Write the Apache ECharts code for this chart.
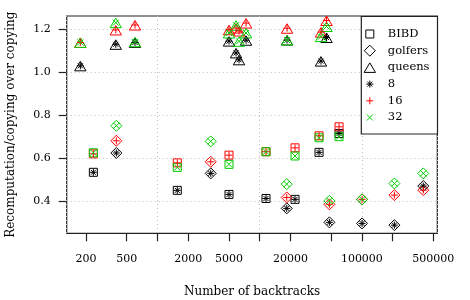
<!DOCTYPE html>
<html><head><meta charset="utf-8">
<script src="https://cdn.jsdelivr.net/npm/echarts@6/dist/echarts.min.js"></script>
<style>html,body{margin:0;padding:0;background:#fff}#c{width:470px;height:300px}</style>
</head><body><div id="c"></div>
<script>
// ---- data ----
const bibdX    = [236, 1563, 5012, 11530, 22180, 38100, 59800];
const bibd8    = [0.534, 0.450, 0.431, 0.412, 0.408, 0.627, 0.715];
const bibd16   = [0.620, 0.578, 0.614, 0.630, 0.648, 0.704, 0.746];
const bibd32   = [0.625, 0.557, 0.571, 0.630, 0.610, 0.695, 0.700];

const golfersX  = [396, 3320, 18400, 48100, 100400, 208000, 399000];
const golfers8  = [0.624, 0.529, 0.366, 0.301, 0.296, 0.288, 0.470];
const golfers16 = [0.681, 0.583, 0.417, 0.385, 0.408, 0.428, 0.451];
const golfers32 = [0.751, 0.678, 0.479, 0.401, 0.408, 0.482, 0.529];

const queensX  = [176, 391, 603, 5012, 5875, 6283, 7360, 18530, 39800, 45100];
const queens8  = [1.030, 1.130, 1.139, 1.145, 1.090, 1.058, 1.149, 1.150, 1.052, 1.162];
const queens16 = [1.139, 1.197, 1.220, 1.198, 1.206, 1.192, 1.229, 1.205, 1.187, 1.241];
const queens32 = [1.139, 1.231, 1.142, 1.183, 1.219, 1.144, 1.183, 1.150, 1.166, 1.213];

const problems = ['BIBD', 'golfers', 'queens'];
const copies   = ['8', '16', '32'];
const xTicks   = [200, 500, 1000, 2000, 5000, 10000, 20000, 50000, 100000, 200000, 500000];
const xLabels  = [200, 500, 2000, 5000, 20000, 100000, 500000];
const yTicks   = [0.4, 0.6, 0.8, 1.0, 1.2];

// ---- styling ----
const COL = {'8': '#000000', '16': '#FF0000', '32': '#00CD00'};
const SHAPE = {
  BIBD:    'path://M0,0M12,12M2,2H10V10H2Z',
  golfers: 'path://M0,0M12,12M6,0.5L11.5,6L6,11.5L0.5,6Z',
  queens:  'path://M0,0M12,12M6,1.5L11.7,11H0.3Z'
};
const MARK = {
  '8':  'path://M0,0M12,12M6,2.5V9.5M2.5,6H9.5M3.5,3.5L8.5,8.5M8.5,3.5L3.5,8.5',
  '16': 'path://M0,0M12,12M6,2.5V9.5M2.5,6H9.5',
  '32': 'path://M0,0M12,12M3,3L9,9M9,3L3,9'
};
const FONT = 'DejaVu Serif';
const table = {
  BIBD:    {x: bibdX, '8': bibd8, '16': bibd16, '32': bibd32},
  golfers: {x: golfersX, '8': golfers8, '16': golfers16, '32': golfers32},
  queens:  {x: queensX, '8': queens8, '16': queens16, '32': queens32}
};

const series = [];
problems.forEach(p => {
  const data = [];
  copies.forEach(c => {
    table[p].x.forEach((x, i) => {
      data.push({value: [x, table[p][c][i]], itemStyle: {borderColor: COL[c]}});
    });
  });
  series.push({
    name: p, type: 'scatter', xAxisIndex: 0, symbol: SHAPE[p], symbolSize: 12,
    itemStyle: {color: 'none', borderColor: '#000', borderWidth: 1, opacity: 1},
    emphasis: {disabled: true}, data: data, z: 2
  });
});
copies.forEach(c => {
  const data = [];
  problems.forEach(p => {
    table[p].x.forEach((x, i) => data.push([x, table[p][c][i]]));
  });
  series.push({
    name: c, type: 'scatter', xAxisIndex: 0, symbol: MARK[c], symbolSize: 12,
    itemStyle: {color: 'none', borderColor: COL[c], borderWidth: 1, opacity: 1},
    emphasis: {disabled: true}, data: data, z: 3
  });
});

const legendData = problems.map(p => ({
  name: p, icon: SHAPE[p], itemStyle: {color: 'none', borderColor: '#000', borderWidth: 1}
})).concat(copies.map(c => ({
  name: c, icon: MARK[c], itemStyle: {color: 'none', borderColor: COL[c], borderWidth: 1}
})));

const chart = echarts.init(document.getElementById('c'), null, {renderer: 'canvas'});
chart.setOption({
  animation: false,
  backgroundColor: '#fff',
  textStyle: {fontFamily: FONT, color: '#000'},
  grid: {left: 66.7, right: 32.7, top: 16, bottom: 66.7, show: true, outerBoundsMode: 'none', containLabel: false,
         borderColor: '#222', borderWidth: 1.2, backgroundColor: 'transparent'},
  legend: {
    orient: 'vertical', right: 32.5, top: 16.5, data: legendData,
    itemWidth: 26, itemHeight: 12, itemGap: -0.3,
    padding: [9, 8, 8, 0],
    borderColor: '#222', borderWidth: 1.2, backgroundColor: '#fff',
    textStyle: {fontFamily: FONT, fontSize: 11.5, color: '#000'},
    selectedMode: false
  },
  xAxis: [{
    type: 'log', min: 129.4, max: 547000, position: 'bottom',
    axisLine: {show: false}, axisTick: {show: false}, axisLabel: {show: false},
    splitLine: {show: true, lineStyle: {color: '#bbb', type: [1, 3], width: 1}},
    minorTick: {show: false}, minorSplitLine: {show: false}
  }, {
    type: 'log', min: 129.4, max: 547000, position: 'bottom',
    name: 'Number of backtracks', nameLocation: 'middle', nameGap: 53, nameMoveOverlap: false,
    nameTextStyle: {fontFamily: FONT, fontSize: 12, color: '#000', verticalAlign: 'top'},
    axisLine: {show: false},
    axisTick: {show: true, inside: false, length: 8, customValues: xTicks, lineStyle: {color: '#222', width: 1.2}},
    axisLabel: {show: true, margin: 20, customValues: xLabels, fontFamily: FONT, fontSize: 11, color: '#000',
                formatter: v => String(Math.round(v))},
    splitLine: {show: false}
  }],
  yAxis: {
    type: 'value', min: 0.25, max: 1.262,
    name: 'Recomputation/copying over copying', nameLocation: 'middle', nameGap: 50, nameMoveOverlap: false,
    nameTextStyle: {fontFamily: FONT, fontSize: 12, color: '#000'},
    axisLine: {show: false},
    axisTick: {show: true, inside: false, length: 8, customValues: yTicks, lineStyle: {color: '#222', width: 1.2}},
    axisLabel: {show: true, margin: 16, customValues: yTicks, fontFamily: FONT, fontSize: 11, color: '#000',
                formatter: v => Number(v).toFixed(1)},
    splitLine: {show: true, lineStyle: {color: '#bbb', type: [1, 3], width: 1}}
  },
  series: series
});
</script>
</body></html>
